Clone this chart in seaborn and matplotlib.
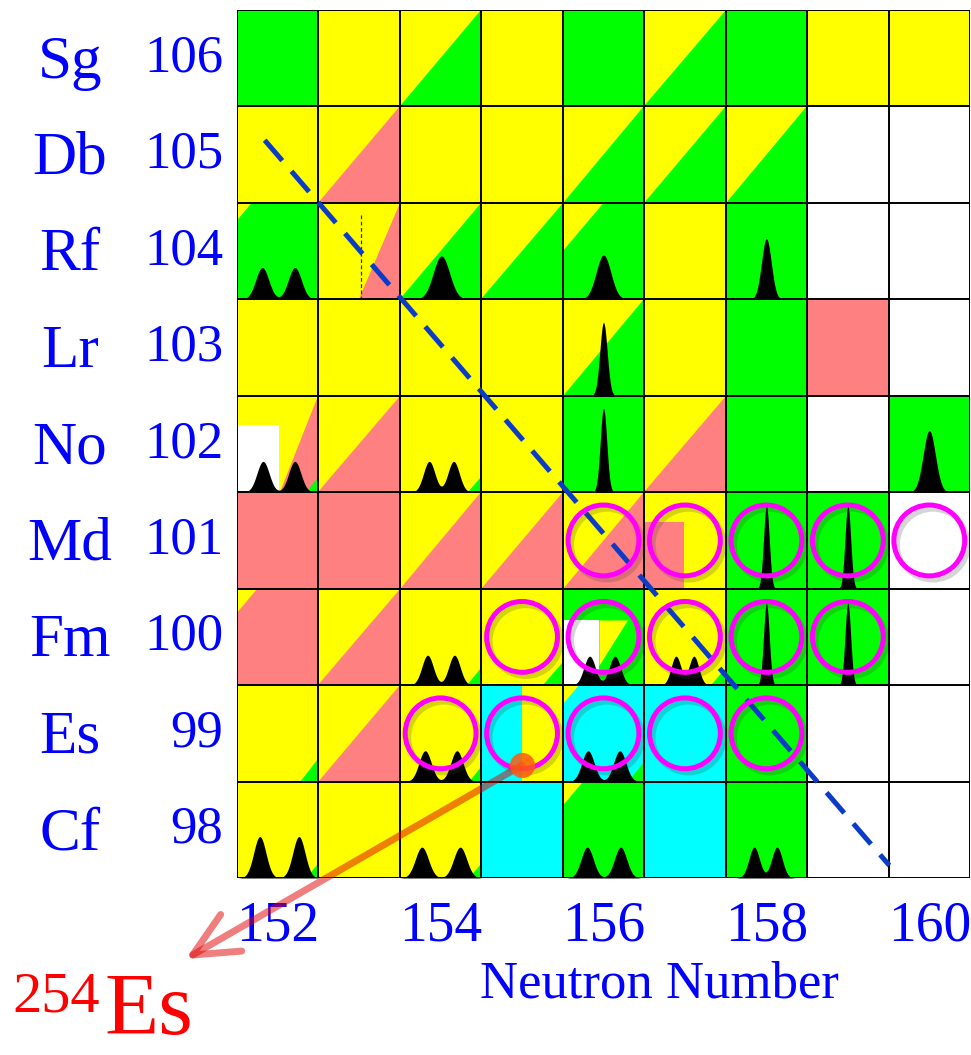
import numpy as np
import pandas as pd
import matplotlib
matplotlib.use("Agg")
import matplotlib.pyplot as plt
import seaborn as sns
from matplotlib.colors import ListedColormap
from matplotlib.patches import Polygon
import matplotlib.patheffects as pe
from matplotlib.transforms import blended_transform_factory

# ---------------- data ----------------
N_vals = [152, 153, 154, 155, 156, 157, 158, 159, 160]
Z_vals = [106, 105, 104, 103, 102, 101, 100, 99, 98]
symbols = ["Sg", "Db", "Rf", "Lr", "No", "Md", "Fm", "Es", "Cf"]
x_tick_vals = [152, 154, 156, 158, 160]

# base colour code of every cell (W white, Y yellow, G green, P pink, C cyan)
base_rows = [
    "GYYYGYGYY",  # 106
    "YYYYYYYWW",  # 105
    "GYYYGYGWW",  # 104
    "YYYYYYGPW",  # 103
    "YYYYGYGWG",  # 102
    "PPYYYYGGW",  # 101
    "PYYYGYGGW",  # 100
    "YYYYCCGWW",  # 99
    "YYYCGCGWW",  # 98
]

# lower-right diagonal triangles: (N, Z, colour, start fraction on bottom edge)
diag_tris = [
    (154, 106, "G", 0.0), (157, 106, "G", 0.0),
    (153, 105, "P", 0.0), (156, 105, "G", 0.0), (157, 105, "G", 0.0), (158, 105, "G", 0.0),
    (153, 104, "P", 0.5), (154, 104, "G", 0.0), (155, 104, "G", 0.0),
    (156, 103, "G", 0.0),
    (152, 102, "P", 0.53), (153, 102, "P", 0.0), (157, 102, "P", 0.0),
    (154, 101, "P", 0.0), (155, 101, "P", 0.0), (156, 101, "P", 0.0),
    (153, 100, "P", 0.0),
    (153, 99, "P", 0.0),
]

# partial rectangles: (N, Z, colour, u0, v0, u1, v1)
part_rects = [
    (152, 102, "W", 0.0, 0.30, 0.51, 1.0),
    (157, 101, "P", 0.0, 0.31, 0.49, 1.0),
    (156, 100, "W", 0.0, 0.33, 0.45, 1.0),
    (155, 99, "C", 0.0, 0.0, 0.5, 1.0),
]

# small corner triangles: lower-right and upper-left (N, Z, colour, size)
lr_corners = [
    (152, 102, "G", 0.15), (154, 102, "G", 0.16),
    (154, 100, "G", 0.18), (155, 100, "G", 0.24), (157, 100, "G", 0.18),
    (152, 99, "G", 0.23), (154, 99, "G", 0.15), (156, 99, "G", 0.2),
    (152, 98, "G", 0.15), (154, 98, "G", 0.15),
]
ul_corners = [
    (152, 104, "Y", 0.18), (156, 104, "Y", 0.5),
    (152, 100, "Y", 0.25), (156, 99, "Y", 0.2), (156, 98, "Y", 0.25),
]
# yellow wedge inside Fm-256 cell
wedge_cells = [(156, 100, "Y")]

# peaks: N, Z, centres (fraction of cell), height (fraction), width
peak_N = [152, 154, 156, 158, 156, 152, 154, 156, 160, 158, 159, 154, 156, 157, 158, 159, 154, 156, 152, 154, 156, 158]
peak_Z = [104, 104, 104, 104, 103, 102, 102, 102, 102, 101, 101, 100, 100, 100, 100, 100, 99, 99, 98, 98, 98, 98]
peak_centers = [(0.31, 0.71), (0.51,), (0.5,), (0.5,), (0.5,), (0.32, 0.71), (0.36, 0.66), (0.5,), (0.5,),
                (0.5,), (0.5,), (0.34, 0.67), (0.33, 0.64), (0.39, 0.61), (0.5,), (0.5,),
                (0.31, 0.7), (0.31, 0.7), (0.28, 0.76), (0.27, 0.74), (0.3, 0.71), (0.35, 0.63)]
peak_height = [0.33, 0.45, 0.46, 0.63, 0.76, 0.32, 0.32, 0.87, 0.64, 0.86, 0.86, 0.31, 0.30, 0.30, 0.85, 0.85,
               0.32, 0.32, 0.43, 0.32, 0.32, 0.32]
peak_sigma = [0.08, 0.1, 0.09, 0.06, 0.045, 0.075, 0.07, 0.04, 0.075, 0.035, 0.035, 0.07, 0.07, 0.06, 0.035, 0.035,
              0.075, 0.075, 0.075, 0.08, 0.075, 0.065]

# magenta circles
circle_N = [156, 157, 158, 159, 160, 155, 156, 157, 158, 159, 154, 155, 156, 157, 158]
circle_Z = [101, 101, 101, 101, 101, 100, 100, 100, 100, 100, 99, 99, 99, 99, 99]

# dashed guide line (N, Z end points)
dash_N = [151.84, 159.51]
dash_Z = [105.15, 97.63]

# arrow from 254Es to its label
arrow_from = (155.0, 98.67)
arrow_to = (150.87, 96.66)

colors = {"W": "#ffffff", "Y": "#ffff00", "G": "#00ff00", "P": "#ff8080", "C": "#00ffff"}
codes = {"W": 0, "Y": 1, "G": 2, "P": 3, "C": 4}

# ---------------- figure ----------------
sns.set_theme(style="white")
plt.rcParams["font.family"] = ["Liberation Serif", "DejaVu Serif"]

W, H = 971, 1055
fig = plt.figure(figsize=(W / 100, H / 100), dpi=100)
ax = fig.add_axes([237 / W, 1 - 878 / H, (970 - 237) / W, (878 - 10) / H])

df = pd.DataFrame([[codes[c] for c in row] for row in base_rows], index=Z_vals, columns=N_vals)
cmap = ListedColormap([colors[k] for k in ["W", "Y", "G", "P", "C"]])
sns.heatmap(df, ax=ax, cmap=cmap, vmin=-0.5, vmax=4.5, cbar=False, linewidths=0)


def cx(n):
    return N_vals.index(n)


def cy(z):
    return Z_vals.index(z)


def cell_poly(n, z, pts, color, zorder=2):
    x0, y0 = cx(n), cy(z)
    verts = [(x0 + u, y0 + v) for u, v in pts]
    ax.add_patch(Polygon(verts, closed=True, facecolor=colors[color], edgecolor="none", zorder=zorder))


for n, z, c, s in diag_tris:
    cell_poly(n, z, [(s, 1), (1, 1), (1, 0)], c)
for n, z, c, u0, v0, u1, v1 in part_rects:
    cell_poly(n, z, [(u0, v0), (u1, v0), (u1, v1), (u0, v1)], c)
for n, z, c in wedge_cells:
    cell_poly(n, z, [(0.45, 0.33), (0.8, 0.33), (0.45, 0.8)], c)
for n, z, c, a in lr_corners:
    cell_poly(n, z, [(1 - a, 1), (1, 1), (1, 1 - a)], c)
for n, z, c, a in ul_corners:
    cell_poly(n, z, [(0, 0), (a, 0), (0, a)], c)

# thin dashed mark in Rf-257
ax.plot([cx(153) + 0.52] * 2, [cy(104) + 0.13, cy(104) + 1.0], color="#333333", lw=0.9,
        ls=(0, (3, 2)), zorder=2.5)

# peaks
u = np.linspace(0, 1, 300)
for n, z, cs, h, sg in zip(peak_N, peak_Z, peak_centers, peak_height, peak_sigma):
    f = sum(np.exp(-((u - c) ** 2) / (2 * sg ** 2)) for c in cs)
    f = h * f
    bottom = cy(z) + 1.0
    ax.fill_between(cx(n) + u, bottom, bottom - f, color="black", lw=0, zorder=3)

# grid lines
ax.vlines(np.arange(10), 0, 9, colors="black", lw=1.4, zorder=4)
ax.hlines(np.arange(10), 0, 9, colors="black", lw=1.4, zorder=4)

# dashed guide line
dx = [n - N_vals[0] + 0.5 for n in dash_N]
dy = [Z_vals[0] - z + 0.5 for z in dash_Z]
ax.plot(dx, dy, color="#0a3cc8", lw=3.6, dashes=(5.4, 2.8), dash_capstyle="butt", zorder=5)

# circles
ccx = [cx(n) + 0.5 for n in circle_N]
ccy = [cy(z) + 0.5 for z in circle_Z]
ax.plot(ccx, ccy, ls="none", marker="o", ms=51, mfc="none", mec="#ff00ff", mew=3.6, zorder=6,
        path_effects=[pe.SimpleLineShadow(offset=(2.5, -3), shadow_color="#404040", alpha=0.22),
                      pe.Normal()])

# arrow + dot
fx = arrow_from[0] - N_vals[0] + 0.5
fy = Z_vals[0] - arrow_from[1] + 0.5
tx = arrow_to[0] - N_vals[0] + 0.5
ty = Z_vals[0] - arrow_to[1] + 0.5
ax.annotate("", xy=(tx, ty), xytext=(fx, fy), annotation_clip=False, zorder=7,
            arrowprops=dict(arrowstyle="->,head_length=0.8,head_width=0.38", mutation_scale=40,
                            color="#e00000", alpha=0.5, lw=5, shrinkA=0, shrinkB=0))
ax.scatter([fx], [fy], s=330, color="#ff5a10", alpha=0.85, zorder=8, clip_on=False, linewidths=0)

ax.set_xlim(0, 9)
ax.set_ylim(9, 0)

# ticks
blue = "#0000ff"
ax.set_xticks([cx(n) + 0.5 for n in x_tick_vals])
ax.set_xticklabels([str(n) for n in x_tick_vals], fontsize=40, color=blue)
ax.set_yticks([i + 0.5 for i in range(len(Z_vals))])
ax.set_yticklabels([str(z) for z in Z_vals], fontsize=38, color=blue, rotation=0)
ax.tick_params(axis="x", length=0, pad=16)
ax.tick_params(axis="y", length=0, pad=10)
ax.set_xlabel("")
ax.set_ylabel("")
for sp in ax.spines.values():
    sp.set_visible(False)

# element symbols
tr = blended_transform_factory(fig.transFigure, ax.transData)
for i, s in enumerate(symbols):
    ax.text(70 / W, i + 0.5 + 0.2, s, transform=tr, ha="center", va="baseline",
            fontsize=44, color=blue, clip_on=False)

fig.text(659 / W, 1 - 997 / H, "Neutron Number", ha="center", va="baseline", fontsize=38, color=blue)
fig.text(12 / W, 1 - 1012 / H, "254", ha="left", va="baseline", fontsize=42, color="#ff0000")
fig.text(104 / W, 2 / H, "Es", ha="left", va="bottom", fontsize=64, color="#ff0000")

fig.savefig("out.png", dpi=100)
